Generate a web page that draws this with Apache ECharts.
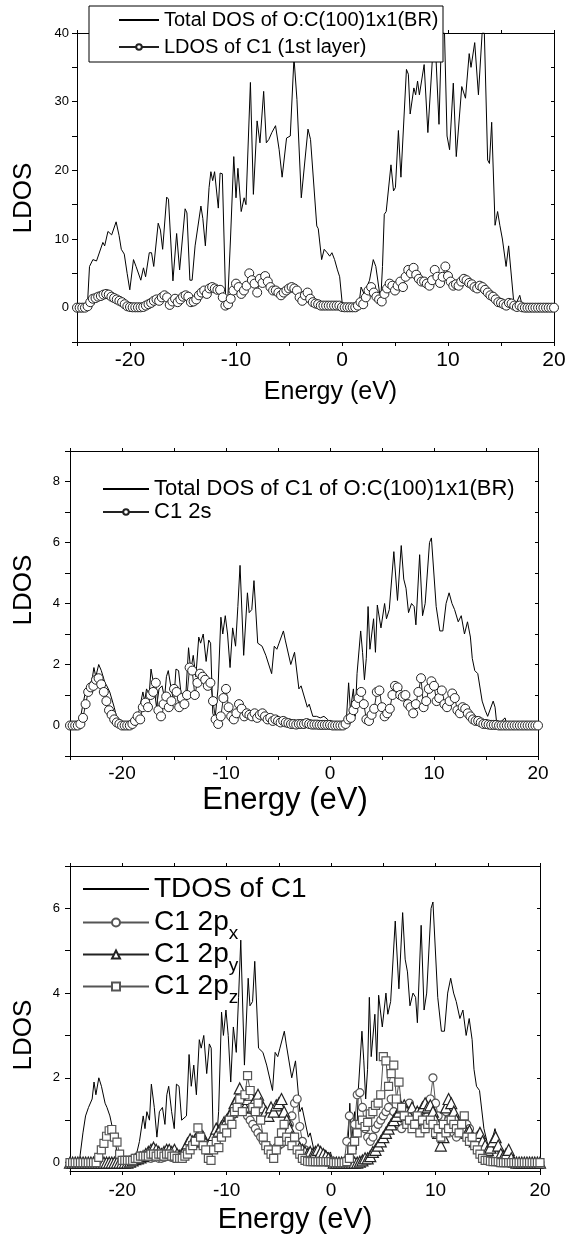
<!DOCTYPE html>
<html>
<head>
<meta charset="utf-8">
<script src="https://cdn.jsdelivr.net/npm/echarts@6/dist/echarts.min.js"></script>
<style>
  html, body { margin: 0; padding: 0; background: #fff; }
  #chart { width: 577px; height: 1242px; }
</style>
</head>
<body>
<div id="chart"></div>
<script>
// energy grid of the projected DOS (eV), 0.25 eV step from -25 to 20
const energy = [];
for (let i = 0; i <= 180; i++) energy.push(-25 + i * 0.25);

// panel 1: total DOS of the slab, [energy, DOS] vertices
const tdosSlab = [
  [-25,0],[-24.03,0],[-23.82,6],[-23.5,7],[-23.16,6.8],[-22.56,9.5],[-22.39,9],[-22.08,11.1],[-21.73,10.6],
  [-21.31,12.5],[-21.03,10.5],[-20.82,8.5],[-20.54,7.8],[-20.27,5],[-20.02,2.6],[-19.67,7],[-19.43,6],
  [-18.98,4],[-18.73,5.8],[-18.53,4.5],[-18.18,8],[-17.97,8],[-17.76,6],[-17.34,12.3],[-17.13,11.3],
  [-16.92,8.5],[-16.54,16.1],[-16.37,15.8],[-15.95,3.9],[-15.6,10.8],[-15.32,5.5],[-14.8,14.4],[-14.63,13.8],
  [-14.35,4],[-14.14,4],[-13.86,9],[-13.31,14.8],[-13.13,13],[-12.89,9],[-12.54,17.5],[-12.37,19.8],
  [-12.2,18.5],[-12.02,19.8],[-11.84,19.7],[-11.67,14.5],[-11.5,19.6],[-11.29,19.5],[-10.97,1],[-10.8,0.3],
  [-10.52,10],[-10.21,22],[-10.0,16],[-9.82,20.3],[-9.51,14],[-9.23,16],[-9.06,15],[-8.64,32.8],[-8.36,16.5],
  [-8.01,27.2],[-7.74,24],[-7.39,31.5],[-7.14,24],[-6.9,24.5],[-6.62,25.5],[-6.27,26.5],[-5.93,23],[-5.65,19],
  [-5.23,24.7],[-4.88,25],[-4.53,36.4],[-4.25,30.3],[-3.84,16],[-3.21,26],[-2.97,24.5],[-2.38,11.9],
  [-2.24,11.5],[-1.92,7],[-1.68,8.5],[-1.4,8],[-1.16,7.5],[-0.95,8],[-0.7,7],[-0.43,5.5],[-0.22,4.5],[0.06,0],
  [1.56,0],[1.8,3],[2.08,2],[2.6,4],[2.95,7],[3.19,6],[3.65,1],[3.82,6],[3.99,13.6],[4.17,14],[4.62,20.8],
  [4.86,17],[5.04,17.5],[5.32,25.8],[5.56,19],[6.08,34.7],[6.26,34],[6.43,28.2],[6.78,32],[6.95,31],[7.13,33],
  [7.3,31],[7.75,35.4],[8.1,25.5],[8.52,36],[8.76,40],[9.15,26.7],[9.39,40],[9.67,40],[9.91,25],[10.15,23],
  [10.5,32.7],[10.78,22],[11.3,32.2],[11.65,30.5],[12.0,37],[12.17,35],[12.52,38.6],[12.87,31],[13.22,40],
  [13.43,40],[13.74,21.5],[13.91,21],[14.12,27],[14.44,12],[14.68,14],[14.89,12],[15.13,10],[15.48,6],
  [15.72,9],[15.86,8.8],[16.25,0],[16.77,1.8],[17.05,0],[20,0]
];

// panel 1: LDOS of C1 (1st layer), one value per energy step
const ldosC1 = [
  0,0,0,0,0.2,0.8,1.3,1.4,1.6,1.7,1.9,2.0,1.9,1.6,1.4,1.2,1.0,0.8,0.5,0.2,
  0.1,0.05,0.05,0.05,0.05,0.1,0.3,0.5,0.7,1.0,1.2,1.0,1.5,1.8,1.5,0.4,0.9,1.3,0.8,1.2,
  1.6,1.8,1.6,0.8,0.9,1.2,1.8,2.2,2.5,2.0,2.8,3.0,2.8,2.6,2.6,1.5,0.3,0.5,1.3,2.5,
  3.5,3.0,2.0,2.5,3.2,5.0,4.0,3.5,2.2,4.2,3.6,4.6,3.8,3.0,2.5,2.5,2.2,1.8,2.2,2.5,
  2.8,3.0,2.8,2.5,1.5,1.0,1.8,2.2,1.3,0.8,0.6,0.5,0.3,0.3,0.3,0.3,0.3,0.3,0.3,0.3,
  0.1,0.05,0.05,0.05,0.05,0.05,0.3,0.8,0.5,1.5,2.5,3.0,2.2,1.6,1.2,0.9,2.0,2.8,3.5,3.2,
  2.5,3.2,3.8,3.0,4.5,5.5,5.0,5.8,4.8,4.2,3.8,3.8,3.5,3.2,4.0,5.5,4.5,3.6,4.5,6.0,
  4.6,3.8,3.2,3.4,3.2,3.8,4.2,4.0,3.6,3.4,3.0,2.8,3.2,3.0,2.6,2.2,1.8,1.6,1.2,0.8,
  0.7,0.5,0.3,0.7,0.6,0.3,0.1,0.3,0.05,0,0,0,0,0,0,0,0,0,0,0,
  0
];

// panels 2 and 3: total DOS of C1, [energy, DOS] vertices
const tdosC1 = [
  [-25,0],[-24.12,0],[-23.76,0.7],[-23.51,1.1],[-23.23,1.3],[-22.88,1.5],[-22.7,1.9],[-22.52,1.6],[-22.24,2.0],
  [-21.99,1.8],[-21.64,1.4],[-21.46,1.3],[-21.18,1.1],[-20.75,0.6],[-20.47,0.2],[-20.33,0],[-18.81,0],
  [-18.63,0.2],[-18.35,0.5],[-17.99,1.1],[-17.82,0.8],[-17.64,1.2],[-17.39,1.0],[-17.21,1.85],[-16.93,1.3],
  [-16.68,0.6],[-16.44,1.2],[-16.15,1.3],[-15.91,0.9],[-15.73,1.6],[-15.55,1.8],[-15.27,1.2],[-15.02,0.8],
  [-14.81,1.85],[-14.56,1.8],[-14.31,1.0],[-13.85,1.1],[-13.6,2.55],[-13.39,1.8],[-13.15,2.3],[-12.9,1.6],
  [-12.62,2.9],[-12.44,2.7],[-12.19,3.0],[-11.91,2.1],[-11.66,2.8],[-11.48,2.7],[-11.27,0.4],[-11.06,0.2],
  [-10.77,1.2],[-10.49,3.55],[-10.31,3.0],[-10.07,3.6],[-9.85,3.0],[-9.61,1.9],[-9.36,3.2],[-9.08,2.6],
  [-8.86,3.9],[-8.65,5.25],[-8.3,2.3],[-7.94,4.35],[-7.77,3.7],[-7.52,3.8],[-7.31,4.75],[-6.95,2.7],
  [-6.53,2.6],[-6.17,2.3],[-5.61,1.7],[-5.36,2.6],[-5.11,2.5],[-4.9,2.7],[-4.48,3.1],[-4.3,2.8],[-3.77,2.0],
  [-3.41,2.4],[-2.99,1.2],[-2.78,1.3],[-2.18,0.6],[-2.0,0.7],[-1.65,0.3],[-1.29,0.3],[-0.94,0.25],[-0.58,0.3],
  [-0.23,0.2],[-0.05,0.25],[0.05,0],[1.54,0],[1.79,1.4],[1.96,0.5],[2.25,1.2],[2.42,0.3],[2.6,1.7],[2.95,3.1],
  [3.13,2.4],[3.31,1.5],[3.49,2.2],[3.66,3.9],[3.84,2.5],[4.19,3.5],[4.37,2.4],[4.55,3.95],[4.9,3.2],
  [5.25,4.0],[5.43,3.5],[5.7,3.8],[6.14,5.7],[6.49,4.1],[6.85,5.9],[7.09,4.8],[7.31,4.5],[7.55,3.7],
  [7.84,4.0],[8.09,3.9],[8.26,3.3],[8.62,5.6],[8.9,3.6],[9.15,4.0],[9.57,6.0],[9.75,6.15],[10.21,3.9],
  [10.56,3.1],[10.85,3.1],[11.16,4.0],[11.45,4.35],[11.73,4.0],[11.98,3.8],[12.33,3.4],[12.62,3.6],
  [12.93,3.0],[13.22,3.4],[13.5,2.9],[13.68,2.2],[13.92,1.8],[14.21,1.7],[14.63,0.8],[14.92,0.5],[15.16,0.3],
  [15.69,0.8],[15.87,0.6],[16.05,0],[16.83,0.25],[17.04,0],[20,0]
];

// panel 2: C1 2s
const c1s = [
  0,0,0,0,0.05,0.25,0.7,1.1,1.25,1.3,1.5,1.55,1.35,1.1,0.8,0.5,0.35,0.2,0.1,0.05,
  0,0,0,0,0.05,0.15,0.3,0.2,0.6,0.75,0.6,1.0,1.1,1.4,0.5,0.3,0.7,0.95,0.6,0.8,
  1.2,1.1,0.6,0.9,0.7,1.0,1.9,1.8,1.0,1.4,1.7,1.6,1.5,1.3,1.4,0.8,0.2,0.05,0.3,0.9,
  1.2,0.6,0.3,0.2,0.4,0.7,0.55,0.3,0.4,0.35,0.3,0.4,0.25,0.35,0.4,0.3,0.2,0.25,0.15,0.2,
  0.15,0.1,0.15,0.1,0.08,0.05,0.05,0.03,0.05,0.05,0.05,0.08,0.05,0.03,0.03,0.03,0.02,0.02,0.02,0.02,
  0.02,0,0,0,0,0,0.05,0.2,0.25,0.5,0.7,0.9,1.1,0.7,0.2,0.15,0.35,0.55,1.1,1.15,
  0.6,0.3,0.4,0.55,1.0,1.3,1.25,1.0,0.95,1.0,0.7,0.6,0.4,0.7,1.1,1.55,0.6,0.8,1.2,1.45,
  1.3,0.8,0.9,1.15,0.7,0.6,0.8,1.05,0.9,0.5,0.4,0.6,0.55,0.4,0.3,0.2,0.15,0.15,0.1,0.05,
  0.05,0.03,0.02,0.02,0.02,0,0,0,0,0,0,0,0,0,0,0,0,0,0,0,
  0
];

// panel 3: C1 2px, 2py, 2pz
const c1px = [
  0,0,0,0,0,0,0,0,0,0,0,0,0,0,0,0,0,0,0,0,
  0,0,0,0,0.02,0.05,0.08,0.1,0.1,0.12,0.15,0.1,0.12,0.15,0.1,0.1,0.12,0.15,0.15,0.12,
  0.15,0.15,0.2,0.2,0.25,0.3,0.35,0.4,0.45,0.5,0.45,0.4,0.35,0.3,0.35,0.45,0.55,0.6,0.7,0.8,
  0.9,1.0,1.1,1.2,1.3,1.45,1.3,1.2,1.1,1.0,0.9,0.8,0.7,0.6,0.5,0.4,0.35,0.3,0.3,0.35,
  0.4,0.45,0.5,0.6,0.9,1.1,1.4,1.5,0.85,0.5,0.3,0.2,0.1,0.05,0.03,0.02,0.02,0.02,0.02,0.02,
  0.02,0,0,0,0,0,0.5,1.1,0.4,0.9,1.6,1.65,1.3,0.8,0.6,0.5,0.6,0.8,0.9,1.0,
  1.1,1.2,1.3,1.5,1.2,1.0,0.9,0.8,1.0,1.2,1.4,1.1,0.9,1.0,1.2,1.0,0.8,1.1,1.5,2.0,
  1.4,1.1,0.9,0.7,1.2,1.0,0.8,0.7,0.6,0.8,0.9,1.0,0.9,0.8,0.6,0.5,0.4,0.3,0.2,0.15,
  0.1,0.05,0.03,0.02,0,0,0,0,0,0,0,0,0,0,0,0,0,0,0,0,
  0
];
const c1py = [
  0,0,0,0,0,0,0,0,0,0,0,0,0,0,0,0,0,0,0,0,
  0,0,0,0.02,0.05,0.08,0.1,0.12,0.15,0.2,0.25,0.3,0.35,0.3,0.25,0.2,0.25,0.3,0.3,0.25,
  0.3,0.2,0.15,0.2,0.3,0.45,0.55,0.5,0.55,0.65,0.7,0.6,0.45,0.4,0.5,0.65,0.8,0.75,0.85,0.95,
  1.0,1.1,1.2,1.4,1.5,1.75,1.4,1.3,1.5,1.6,1.3,1.5,1.6,1.4,1.3,1.2,1.1,1.3,1.2,1.35,
  1.4,1.5,1.2,1.0,0.8,0.6,0.5,0.45,0.35,0.3,0.25,0.2,0.25,0.2,0.25,0.3,0.25,0.2,0.15,0.1,
  0.05,0,0,0,0,0,0,0,0,0,0,0.02,0.05,0.1,0.1,0.15,0.25,0.3,0.4,0.5,
  0.6,0.7,0.8,0.9,1.0,1.1,1.2,1.3,1.35,1.2,1.1,1.3,1.0,1.2,1.1,1.3,1.4,1.3,1.35,1.2,
  1.0,0.7,0.4,0.6,1.3,1.5,1.4,1.2,1.0,0.9,0.8,0.8,0.7,0.75,0.6,0.5,0.6,0.7,0.5,0.4,
  0.3,0.35,0.5,0.6,0.4,0.2,0.15,0.2,0.3,0.1,0.02,0,0,0,0,0,0,0,0,0,
  0
];
const c1pz = [
  0,0,0,0,0,0,0,0,0,0,0,0.12,0.3,0.45,0.62,0.75,0.78,0.6,0.48,0.2,
  0.05,0.05,0.05,0.05,0.05,0.1,0.1,0.15,0.15,0.15,0.15,0.2,0.2,0.15,0.2,0.2,0.15,0.2,0.2,0.15,
  0.15,0.1,0.1,0.1,0.15,0.2,0.3,0.4,0.5,0.82,0.6,0.4,0.3,0.1,0.05,0.3,0.5,0.35,0.6,0.8,
  0.7,1.0,0.9,1.2,1.3,1.5,1.2,1.6,2.05,1.7,1.3,1.2,1.4,1.0,0.6,0.4,0.3,0.2,0.1,0.3,
  0.5,0.7,0.9,0.6,0.5,0.4,0.6,0.3,0.2,0.1,0.05,0.03,0.02,0.02,0.02,0.02,0.02,0.02,0.02,0.02,
  0.02,0,0,0,0,0,0.02,0.1,0.3,0.5,0.7,0.9,1.0,0.85,0.95,1.15,1.2,1.35,1.4,1.6,
  2.5,2.4,1.8,2.1,2.3,1.5,1.9,1.3,1.1,0.9,1.0,0.8,0.9,1.1,0.7,1.0,0.8,0.9,1.0,0.9,
  0.7,0.8,0.6,0.9,0.7,0.8,1.0,0.9,0.8,0.7,0.9,1.1,0.6,0.5,0.6,0.4,0.3,0.2,0.1,0.05,
  0.05,0.03,0.02,0.02,0.02,0,0,0,0,0,0,0,0,0,0,0,0,0,0,0,
  0
];

const FONT = '"Liberation Sans", Arial, sans-serif';
const withEnergy = vals => vals.map((v, i) => [energy[i], v]);

// bottom + top x axes for one grid
function xAxes(gi, o) {
  const base = { gridIndex: gi, type: 'value', min: -25, max: 20, interval: 5, splitLine: { show: false } };
  return [
    Object.assign({}, base, {
      position: 'bottom',
      axisLine: { onZero: false, lineStyle: { color: '#000', width: 1 } },
      axisTick: { length: 4, lineStyle: { color: '#000' } },
      axisLabel: {
        fontSize: o.size, margin: o.margin, color: '#000', fontFamily: FONT,
        formatter: v => (v % 10 === 0 ? String(v) : '')
      },
      name: 'Energy (eV)', nameLocation: 'middle', nameGap: o.nameGap,
      nameTextStyle: { fontSize: o.nameSize, color: '#000', fontFamily: FONT, padding: o.namePad }
    }),
    Object.assign({}, base, {
      position: 'top',
      axisLine: { onZero: false, lineStyle: { color: '#000', width: 1 } },
      axisTick: { length: 3, lineStyle: { color: '#000' } },
      axisLabel: { show: false }
    })
  ];
}

// left + right y axes for one grid
function yAxes(gi, o) {
  const base = { gridIndex: gi, type: 'value', min: o.min, max: o.max, splitLine: { show: false } };
  if (o.interval) base.interval = o.interval;
  const tickExtra = o.ticks ? { customValues: o.ticks } : {};
  return [
    Object.assign({}, base, {
      position: 'left',
      axisLine: { show: true, onZero: false, lineStyle: { color: '#000', width: 1 } },
      axisTick: Object.assign({ show: true, length: 5, lineStyle: { color: '#000' } }, tickExtra),
      axisLabel: Object.assign({
        fontSize: 13, margin: o.margin, color: '#000', fontFamily: FONT,
        formatter: v => (o.labels ? String(v) : (v % o.every === 0 ? String(v) : ''))
      }, o.labels ? { customValues: o.labels } : {})
    }),
    Object.assign({}, base, {
      position: 'right',
      axisLine: { show: true, onZero: false, lineStyle: { color: '#000', width: 1 } },
      axisTick: Object.assign({ show: true, inside: true, length: 3, lineStyle: { color: '#000' } }, tickExtra),
      axisLabel: { show: false }
    })
  ];
}

function lineSeries(name, data, gi) {
  return {
    name, type: 'line', data, xAxisIndex: gi * 2, yAxisIndex: gi * 2,
    symbol: 'none', color: '#000', lineStyle: { color: '#000', width: 1 },
    silent: true, animation: false
  };
}
function markSeries(name, data, gi, symbol, size, col, bw) {
  return {
    name, type: 'line', data, xAxisIndex: gi * 2, yAxisIndex: gi * 2,
    symbol, symbolSize: size, showSymbol: true, color: col,
    lineStyle: { color: col, width: 1 },
    itemStyle: { color: '#fff', borderColor: col, borderWidth: bw || 1 },
    silent: true, animation: false
  };
}

function oneLegend(name, left, top, o) {
  return {
    data: [o.hideMark ? { name, itemStyle: { opacity: 0 } } : name],
    left, top, padding: 0, z: 10, selectedMode: false,
    itemWidth: o.w, itemHeight: o.h,
    formatter: o.formatter,
    textStyle: Object.assign({ fontSize: o.size, lineHeight: o.lh, color: '#000', fontFamily: FONT }, o.rich ? { rich: o.rich } : {})
  };
}

const subRich = { s: { fontSize: 19, lineHeight: 19, padding: [22, 0, 0, 0], color: '#000', fontFamily: FONT } };
const subFmt = n => 'C1 2p{s|' + n.slice(-1) + '}';
const yTitle = (y) => ({
  type: 'text', x: 24, y, rotation: Math.PI / 2,
  style: { text: 'LDOS', fontSize: 26, fontFamily: FONT, fill: '#000', align: 'center', verticalAlign: 'middle' }
});

const chart = echarts.init(document.getElementById('chart'), null, { renderer: 'canvas' });
chart.setOption({
  backgroundColor: '#fff',
  animation: false,
  grid: [
    { left: 77, top: 33, width: 477, height: 309 },
    { left: 70, top: 451, width: 468, height: 305 },
    { left: 70, top: 866, width: 470, height: 305 }
  ],
  xAxis: [
    ...xAxes(0, { size: 21, margin: 8, nameGap: 38, nameSize: 25, namePad: [0, 0, 0, 30] }),
    ...xAxes(1, { size: 19, margin: 8, nameGap: 29, nameSize: 31, namePad: [0, 38, 0, 0] }),
    ...xAxes(2, { size: 19, margin: 10, nameGap: 34, nameSize: 29, namePad: [0, 20, 0, 0] })
  ],
  yAxis: [
    ...yAxes(0, { min: -5, max: 40, interval: 5, every: 10, margin: 8 }),
    ...yAxes(1, { min: -1, max: 9, interval: 1, every: 2, margin: 10 }),
    ...yAxes(2, { min: -0.2, max: 7, ticks: [0, 1, 2, 3, 4, 5, 6, 7], labels: [0, 2, 4, 6], margin: 10 })
  ],
  legend: [
    oneLegend('Total DOS of O:C(100)1x1(BR)', 118, 9, { w: 40, h: 7, size: 20, lh: 22, hideMark: true }),
    oneLegend('LDOS of C1 (1st layer)', 118, 36, { w: 40, h: 7, size: 20, lh: 22 }),
    oneLegend('Total DOS of C1 of O:C(100)1x1(BR)', 102, 476, { w: 46, h: 7, size: 22, lh: 26, hideMark: true }),
    oneLegend('C1 2s', 102, 499, { w: 46, h: 7, size: 22, lh: 26 }),
    oneLegend('TDOS of C1', 82, 869, { w: 66, h: 10, size: 28, lh: 40, hideMark: true }),
    oneLegend('C1 2px', 82, 902, { w: 66, h: 10, size: 28, lh: 40, rich: subRich, formatter: subFmt }),
    oneLegend('C1 2py', 82, 934, { w: 66, h: 10, size: 28, lh: 40, rich: subRich, formatter: subFmt }),
    oneLegend('C1 2pz', 82, 966, { w: 66, h: 10, size: 28, lh: 40, rich: subRich, formatter: subFmt })
  ],
  graphic: [
    { type: 'rect', z: 5, shape: { x: 89, y: 6, width: 354, height: 56 }, style: { fill: '#fff', stroke: '#000', lineWidth: 1 } },
    yTitle(198),
    yTitle(590),
    yTitle(1035)
  ],
  series: [
    lineSeries('Total DOS of O:C(100)1x1(BR)', tdosSlab, 0),
    markSeries('LDOS of C1 (1st layer)', withEnergy(ldosC1), 0, 'circle', 9, '#222'),
    lineSeries('Total DOS of C1 of O:C(100)1x1(BR)', tdosC1, 1),
    markSeries('C1 2s', withEnergy(c1s), 1, 'circle', 9, '#222'),
    lineSeries('TDOS of C1', tdosC1, 2),
    markSeries('C1 2px', withEnergy(c1px), 2, 'circle', 8, '#555', 1.2),
    markSeries('C1 2py', withEnergy(c1py), 2, 'triangle', 11, '#222', 1.2),
    markSeries('C1 2pz', withEnergy(c1pz), 2, 'rect', 8, '#555', 1.2)
  ]
});
</script>
</body>
</html>
